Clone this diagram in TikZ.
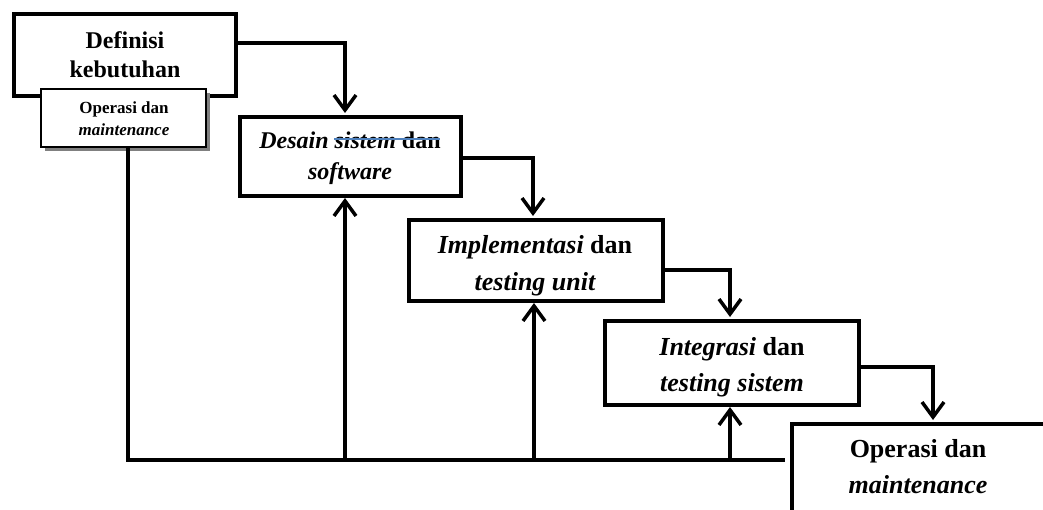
\documentclass[tikz,border=0pt]{standalone}
\usepackage{fontspec}
\setmainfont{Liberation Serif}
\usetikzlibrary{arrows.meta,shadows}
\definecolor{strike}{RGB}{79,129,189}
\begin{document}
\begin{tikzpicture}[x=1pt,y=-1pt,
  phase/.style={draw,line width=4pt,fill=white,inner sep=0pt},
  smallbox/.style={draw,line width=1.3pt,fill=white,inner sep=0pt,
    general shadow={fill=black!50,shadow xshift=4pt,shadow yshift=-4pt}},
  flow/.style={line width=3.5pt,-{Straight Barb[length=15pt,width=22pt]}},
  back/.style={line width=3.5pt},
  lbl/.style={anchor=base,inner sep=0pt,font=\bfseries\fontsize{24}{29}\selectfont},
  lblb/.style={anchor=base,inner sep=0pt,font=\bfseries\fontsize{26}{31}\selectfont},
  lbls/.style={anchor=base,inner sep=0pt,font=\bfseries\fontsize{17}{20}\selectfont}]
\useasboundingbox (0,0) rectangle (1043,509);
\clip (0,0) rectangle (1043,509);
% boxes
\node[phase,minimum width=222pt,minimum height=82pt] (b1) at (125,55) {};
\node[phase,minimum width=221pt,minimum height=79pt] (b2) at (350.5,156.5) {};
\node[phase,minimum width=254pt,minimum height=81pt] (b3) at (536,260.5) {};
\node[phase,minimum width=254pt,minimum height=84pt] (b4) at (732,363) {};
\node[phase,minimum width=308pt,minimum height=136pt] (b5) at (946,492) {};
\node[smallbox,minimum width=165pt,minimum height=58pt] (s) at (123.5,118) {};
% texts
\node[lbl] (t1a) at (125,48) {Definisi};
\node[lbl] (t1b) at (125,77) {kebutuhan};
\node[lbls] (tsa) at (124,113) {Operasi dan};
\node[lbls] (tsb) at (124,135) {\itshape maintenance};
\node[lbl] (t2a) at (350,148) {\itshape Desain sistem\upshape\ dan};
\node[lbl] (t2b) at (350,179) {\itshape software};
\node[lblb] (t3a) at (535,253) {\itshape Implementasi\upshape\ dan};
\node[lblb] (t3b) at (535,290) {\itshape testing unit};
\node[lblb] (t4a) at (732,355) {\itshape Integrasi\upshape\ dan};
\node[lblb] (t4b) at (732,391) {\itshape testing sistem};
\node[lblb] (t5a) at (918,457) {Operasi dan};
\node[lblb] (t5b) at (918,493) {\itshape maintenance};
\draw[strike,line width=1.3pt] (334,139) -- (440,139);
% forward flow
\draw[flow,shorten >=2pt] ([yshift=12pt]b1.east) -| ([xshift=-5.5pt]b2.north);
\draw[flow,shorten >=2pt] ([yshift=-1.5pt]b2.east) -| ([xshift=-3pt]b3.north);
\draw[flow,shorten >=2pt] ([yshift=-9.5pt]b3.east) -| ([xshift=-2pt]b4.north);
\draw[flow,shorten >=2pt] ([yshift=-4pt]b4.east) -| ([xshift=-13pt]b5.north);
% feedback
\coordinate (fe) at (785,460);
\coordinate (f2) at (345,460);
\coordinate (f3) at (534,460);
\coordinate (f4) at (730,460);
\draw[back] ([xshift=4.5pt]s.south) |- (fe);
\draw[flow] (f2) -- (f2 |- b2.south);
\draw[flow] (f3) -- (f3 |- b3.south);
\draw[flow] (f4) -- (f4 |- b4.south);
\end{tikzpicture}
\end{document}
